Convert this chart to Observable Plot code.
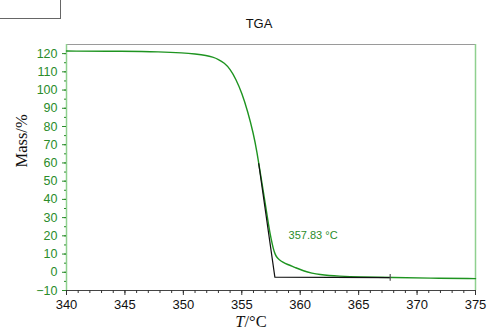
<!DOCTYPE html>
<html>
<head>
<meta charset="utf-8">
<script src="https://cdn.jsdelivr.net/npm/d3@7"></script>
<script src="https://cdn.jsdelivr.net/npm/@observablehq/plot@0.6"></script>
<style>
  html, body { margin: 0; padding: 0; background: #fff; }
  #wrap { position: relative; width: 487px; height: 336px; }
  #box { position: absolute; left: -1px; top: -1px; width: 62px; height: 20px; border: 1px solid #666; box-sizing: border-box; }
</style>
</head>
<body>
<div id="wrap"><div id="box"></div></div>
<script>
// TGA curve: temperature (°C) and mass (%)
const temperature = [340, 345, 348, 350, 351, 352, 352.5, 353, 353.5, 354, 354.5, 355, 355.5, 356, 356.3, 356.6, 357, 357.3, 357.5, 357.7, 357.85, 358, 358.2, 358.5, 358.9, 359.5, 360.3, 361, 361.7, 362.5, 363.2, 365, 368, 371, 375];
const mass        = [121.4, 121.3, 121.0, 120.4, 119.8, 119.0, 118.1, 116.9, 114.9, 111.6, 106.0, 98.5, 88.5, 76.0, 66.0, 54.0, 38.0, 25.5, 18.5, 12.8, 9.9, 8.2, 6.9, 5.6, 4.3, 2.8, 0.7, -0.5, -1.3, -1.8, -2.1, -2.6, -2.9, -3.2, -3.5];

// Onset construction: tangent and baseline
const tangentT = [356.45, 357.83, 367.7];
const tangentM = [59.6, -2.7, -2.9];
const endTickT = 367.7;
const endTickM = [-1.2, -4.9];

// Annotation
const onsetLabel = "357.83 °C";
const onsetLabelAt = [359.0, 20.2];

// Tick labels
const xTicks = [340, 345, 350, 355, 360, 365, 370, 375];
const xMinor = d3.range(340, 376, 1);
const yTicks = [-10, 0, 10, 20, 30, 40, 50, 60, 70, 80, 90, 100, 110, 120];
const yMinor = d3.range(-10, 125, 5);

const green = "#1e9420";
const textGreen = "#2a8c2a";
const axisGreen = "#8fd08f";
const font = "'Liberation Sans', Arial, Helvetica, sans-serif";
const serif = "'Liberation Serif', 'Times New Roman', serif";

const curve = temperature.map((t, i) => ({t, m: mass[i]}));
const tangent = tangentT.map((t, i) => ({t, m: tangentM[i]}));

const chart = Plot.plot({
  width: 487,
  height: 336,
  marginLeft: 66,
  marginRight: 12,
  marginTop: 44,
  marginBottom: 46,
  style: {fontFamily: font, background: "#fff"},
  x: {domain: [340, 375]},
  y: {domain: [-10, 125]},
  marks: [
    Plot.ruleY([125], {stroke: "#9a9a9a", strokeWidth: 1.2}),
    Plot.ruleX([375], {stroke: axisGreen, strokeWidth: 1.5}),
    Plot.ruleX([340], {stroke: axisGreen, strokeWidth: 1.5}),
    Plot.ruleY([-10], {stroke: "#444"}),
    Plot.axisY({ticks: yTicks, tickSize: 4, tickPadding: 5, stroke: textGreen, fill: textGreen, fontSize: 12.5, label: null}),
    Plot.axisY({ticks: yMinor, tickSize: 2, text: null, stroke: textGreen, label: null}),
    Plot.axisX({ticks: xTicks, tickSize: 5, tickPadding: 4, stroke: "#333", fill: "#111", fontSize: 13, label: null}),
    Plot.axisX({ticks: xMinor, tickSize: 3, text: null, stroke: "#333", label: null}),
    Plot.line(curve, {x: "t", y: "m", curve: "basis", stroke: green, strokeWidth: 1.4}),
    Plot.line(tangent, {x: "t", y: "m", stroke: "#111", strokeWidth: 1.2}),
    Plot.ruleX([endTickT], {y1: endTickM[0], y2: endTickM[1], stroke: "#555", strokeWidth: 1.2}),
    Plot.text([onsetLabel], {x: onsetLabelAt[0], y: onsetLabelAt[1], text: d => d, textAnchor: "start", fill: textGreen, fontSize: 11}),
    Plot.text(["TGA"], {frameAnchor: "top", dx: -12, dy: -26, fontSize: 13, fill: "#111"}),
    Plot.text(["Mass/%"], {frameAnchor: "left", rotate: -90, dx: -45, fontSize: 16.5, fontFamily: serif, fill: "#111"}),
    Plot.text(["T"], {frameAnchor: "bottom", dx: -26.5, dy: 36, textAnchor: "end", fontSize: 16.5, fontFamily: serif, fontStyle: "italic", fill: "#111"}),
    Plot.text(["/°C"], {frameAnchor: "bottom", dx: -26.5, dy: 36, textAnchor: "start", fontSize: 16.5, fontFamily: serif, fill: "#111"})
  ]
});
document.getElementById("wrap").prepend(chart);
</script>
</body>
</html>
